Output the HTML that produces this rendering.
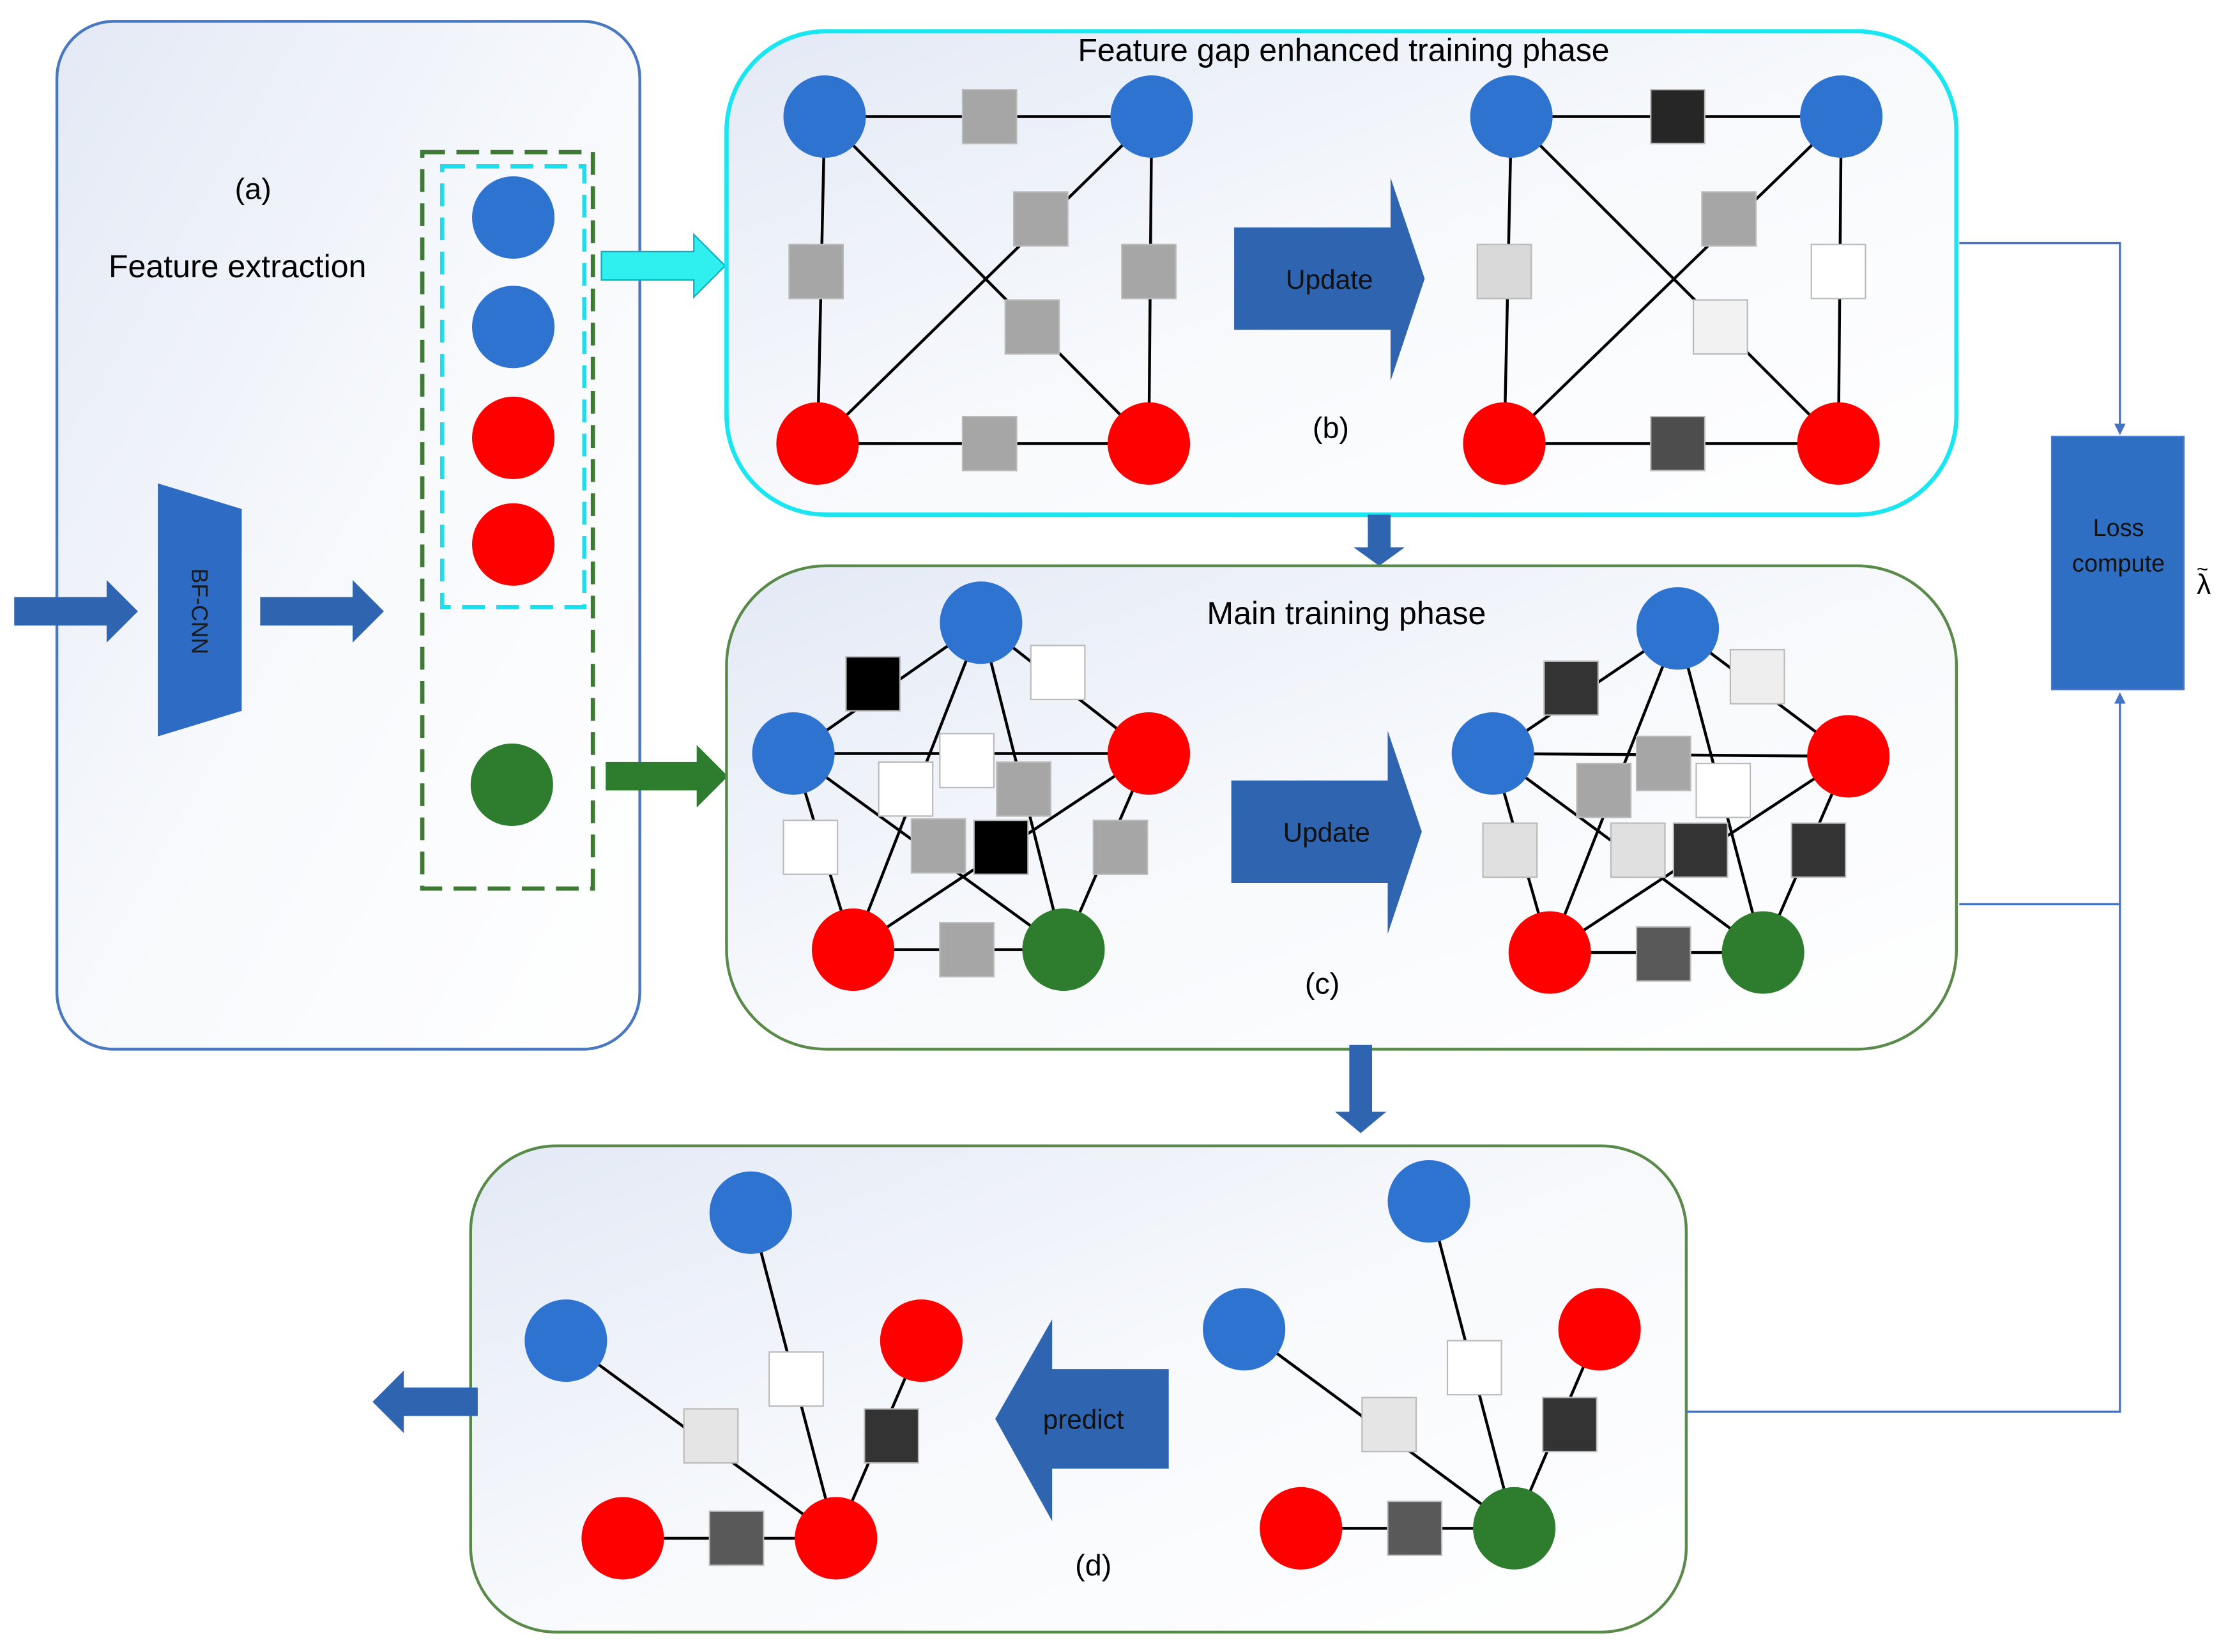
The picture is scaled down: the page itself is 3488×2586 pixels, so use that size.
<!DOCTYPE html>
<html><head><meta charset="utf-8"><style>html,body{margin:0;padding:0;background:#fff}svg{display:block}text{font-family:"Liberation Sans",sans-serif}</style></head><body>
<svg width="3488" height="2586" viewBox="0 0 1567 1162" preserveAspectRatio="none" xmlns="http://www.w3.org/2000/svg">
<defs>
<linearGradient id="g" x1="0" y1="0" x2="1" y2="1"><stop offset="0" stop-color="#e3e9f5"/><stop offset="0.5" stop-color="#f7f9fc"/><stop offset="1" stop-color="#ffffff"/></linearGradient>
<marker id="ah" markerWidth="8" markerHeight="8" refX="7" refY="4" orient="auto" markerUnits="userSpaceOnUse"><path d="M0,0 L8,4 L0,8 z" fill="#4472c4"/></marker>
</defs>
<rect width="1567" height="1162" fill="#fff"/>
<!-- panel a -->
<rect x="40" y="15" width="410" height="723" rx="40" fill="url(#g)" stroke="#4a78c0" stroke-width="2"/>
<text x="178" y="140" font-size="21" text-anchor="middle">(a)</text>
<text x="167" y="195" font-size="22.5" text-anchor="middle">Feature extraction</text>
<rect x="297" y="107" width="120" height="518" fill="none" stroke="#3f7a35" stroke-width="3" stroke-dasharray="16,8"/>
<rect x="311" y="117" width="100" height="310" fill="none" stroke="#19e0ee" stroke-width="3" stroke-dasharray="16,8"/>
<circle cx="361" cy="153" r="29" fill="#2f73d0"/><circle cx="361" cy="230" r="29" fill="#2f73d0"/>
<circle cx="361" cy="308" r="29" fill="#f00"/><circle cx="361" cy="383" r="29" fill="#f00"/>
<circle cx="360" cy="552" r="29" fill="#2e7d2e"/>
<polygon points="111,340 170,358 170,500 111,518" fill="#2e6bc4"/>
<text x="140" y="430" font-size="16" text-anchor="middle" transform="rotate(90 140 430)" dy="5" fill="#1a1a1a">BF-CNN</text>
<polygon points="10,420 75,420 75,408 97,430 75,452 75,440 10,440" fill="#2e64b0"/>
<polygon points="183,420 248,420 248,408 270,430 248,452 248,440 183,440" fill="#2e64b0"/>
<polygon points="423,177 488,177 488,165 510,187 488,209 488,197 423,197" fill="#2ff0ee" stroke="#1ab" stroke-width="1"/>
<polygon points="426,536 490,536 490,524 512,546 490,568 490,556 426,556" fill="#2e7d2e"/>
<!-- panel b -->
<rect x="511" y="22" width="865" height="340" rx="70" fill="url(#g)" stroke="#19e6f0" stroke-width="3"/>
<text x="945" y="43" font-size="22.5" text-anchor="middle">Feature gap enhanced training phase</text>
<text x="936" y="308" font-size="21" text-anchor="middle">(b)</text>
<g stroke="#000" stroke-width="2">
<line x1="580" y1="82" x2="810" y2="82"/><line x1="575" y1="312" x2="808" y2="312"/><line x1="580" y1="82" x2="575" y2="312"/><line x1="810" y1="82" x2="808" y2="312"/><line x1="580" y1="82" x2="808" y2="312"/><line x1="810" y1="82" x2="575" y2="312"/>
<line x1="1063" y1="82" x2="1295" y2="82"/><line x1="1058" y1="312" x2="1293" y2="312"/><line x1="1063" y1="82" x2="1058" y2="312"/><line x1="1295" y1="82" x2="1293" y2="312"/><line x1="1063" y1="82" x2="1293" y2="312"/><line x1="1295" y1="82" x2="1058" y2="312"/>
</g>
<circle cx="580" cy="82" r="29" fill="#2f73d0"/><circle cx="810" cy="82" r="29" fill="#2f73d0"/><circle cx="575" cy="312" r="29" fill="#f00"/><circle cx="808" cy="312" r="29" fill="#f00"/>
<circle cx="1063" cy="82" r="29" fill="#2f73d0"/><circle cx="1295" cy="82" r="29" fill="#2f73d0"/><circle cx="1058" cy="312" r="29" fill="#f00"/><circle cx="1293" cy="312" r="29" fill="#f00"/>
<g stroke="#bbb" stroke-width="1">
<rect x="677" y="63" width="38" height="38" fill="#a6a6a6"/><rect x="555" y="172" width="38" height="38" fill="#a6a6a6"/><rect x="713" y="135" width="38" height="38" fill="#a6a6a6"/><rect x="707" y="211" width="38" height="38" fill="#a6a6a6"/><rect x="789" y="172" width="38" height="38" fill="#a6a6a6"/><rect x="677" y="293" width="38" height="38" fill="#a6a6a6"/>
<rect x="1161" y="63" width="38" height="38" fill="#262626"/><rect x="1039" y="172" width="38" height="38" fill="#d9d9d9"/><rect x="1197" y="135" width="38" height="38" fill="#a6a6a6"/><rect x="1191" y="211" width="38" height="38" fill="#f2f2f2"/><rect x="1274" y="172" width="38" height="38" fill="#fff"/><rect x="1161" y="293" width="38" height="38" fill="#4d4d4d"/>
</g>
<polygon points="868,160 978,160 978,125 1002,196 978,268 978,232 868,232" fill="#2e64b0"/>
<text x="935" y="203" font-size="19" text-anchor="middle" fill="#111">Update</text>
<polygon points="962,362 978,362 978,385 988,385 970,398 952,385 962,385" fill="#2e64b0"/>
<!-- panel c -->
<rect x="511" y="398" width="865" height="340" rx="70" fill="url(#g)" stroke="#5a8a4a" stroke-width="2"/>
<text x="947" y="439" font-size="22.5" text-anchor="middle">Main training phase</text>
<text x="930" y="699" font-size="21" text-anchor="middle">(c)</text>
<g stroke="#000" stroke-width="2" fill="none">
<path d="M690,438 L558,530 L600,668 L748,668 L808,530 Z M690,438 L600,668 M690,438 L748,668 M558,530 L808,530 M558,530 L748,668 M808,530 L600,668"/>
<path d="M1180,442 L1050,530 L1090,670 L1240,670 L1300,532 Z M1180,442 L1090,670 M1180,442 L1240,670 M1050,530 L1300,532 M1050,530 L1240,670 M1300,532 L1090,670"/>
</g>
<circle cx="690" cy="438" r="29" fill="#2f73d0"/><circle cx="558" cy="530" r="29" fill="#2f73d0"/><circle cx="808" cy="530" r="29" fill="#f00"/><circle cx="600" cy="668" r="29" fill="#f00"/><circle cx="748" cy="668" r="29" fill="#2e7d2e"/>
<circle cx="1180" cy="442" r="29" fill="#2f73d0"/><circle cx="1050" cy="530" r="29" fill="#2f73d0"/><circle cx="1300" cy="532" r="29" fill="#f00"/><circle cx="1090" cy="670" r="29" fill="#f00"/><circle cx="1240" cy="670" r="29" fill="#2e7d2e"/>
<g stroke="#bbb" stroke-width="1">
<rect x="595" y="462" width="38" height="38" fill="#000"/><rect x="725" y="454" width="38" height="38" fill="#fff"/><rect x="551" y="577" width="38" height="38" fill="#fff"/><rect x="618" y="536" width="38" height="38" fill="#fff"/><rect x="661" y="516" width="38" height="38" fill="#fff"/><rect x="701" y="536" width="38" height="38" fill="#a6a6a6"/><rect x="641" y="576" width="38" height="38" fill="#a6a6a6"/><rect x="685" y="577" width="38" height="38" fill="#000"/><rect x="769" y="577" width="38" height="38" fill="#a6a6a6"/><rect x="661" y="649" width="38" height="38" fill="#a6a6a6"/>
<rect x="1086" y="465" width="38" height="38" fill="#333"/><rect x="1217" y="457" width="38" height="38" fill="#eee"/><rect x="1043" y="579" width="38" height="38" fill="#e0e0e0"/><rect x="1109" y="537" width="38" height="38" fill="#a6a6a6"/><rect x="1151" y="518" width="38" height="38" fill="#a6a6a6"/><rect x="1193" y="537" width="38" height="38" fill="#fff"/><rect x="1133" y="579" width="38" height="38" fill="#e0e0e0"/><rect x="1177" y="579" width="38" height="38" fill="#333"/><rect x="1260" y="579" width="38" height="38" fill="#333"/><rect x="1151" y="652" width="38" height="38" fill="#595959"/>
</g>
<polygon points="866,549 976,549 976,514 1000,585 976,657 976,621 866,621" fill="#2e64b0"/>
<text x="933" y="592" font-size="19" text-anchor="middle" fill="#111">Update</text>
<polygon points="949,735 965,735 965,782 975,782 957,797 939,782 949,782" fill="#2e64b0"/>
<!-- panel d -->
<rect x="331" y="806" width="855" height="342" rx="60" fill="url(#g)" stroke="#5a8a4a" stroke-width="2"/>
<text x="769" y="1108" font-size="21" text-anchor="middle">(d)</text>
<g stroke="#000" stroke-width="2">
<line x1="528" y1="853" x2="588" y2="1082"/><line x1="398" y1="943" x2="588" y2="1082"/><line x1="648" y1="943" x2="588" y2="1082"/><line x1="438" y1="1082" x2="588" y2="1082"/>
<line x1="1005" y1="845" x2="1065" y2="1075"/><line x1="875" y1="935" x2="1065" y2="1075"/><line x1="1125" y1="935" x2="1065" y2="1075"/><line x1="915" y1="1075" x2="1065" y2="1075"/>
</g>
<circle cx="528" cy="853" r="29" fill="#2f73d0"/><circle cx="398" cy="943" r="29" fill="#2f73d0"/><circle cx="648" cy="943" r="29" fill="#f00"/><circle cx="438" cy="1082" r="29" fill="#f00"/><circle cx="588" cy="1082" r="29" fill="#f00"/>
<circle cx="1005" cy="845" r="29" fill="#2f73d0"/><circle cx="875" cy="935" r="29" fill="#2f73d0"/><circle cx="1125" cy="935" r="29" fill="#f00"/><circle cx="915" cy="1075" r="29" fill="#f00"/><circle cx="1065" cy="1075" r="29" fill="#2e7d2e"/>
<g stroke="#bbb" stroke-width="1">
<rect x="541" y="951" width="38" height="38" fill="#fff"/><rect x="481" y="991" width="38" height="38" fill="#e5e5e5"/><rect x="608" y="991" width="38" height="38" fill="#333"/><rect x="499" y="1063" width="38" height="38" fill="#595959"/>
<rect x="1018" y="943" width="38" height="38" fill="#fff"/><rect x="958" y="983" width="38" height="38" fill="#e5e5e5"/><rect x="1085" y="983" width="38" height="38" fill="#333"/><rect x="976" y="1056" width="38" height="38" fill="#595959"/>
</g>
<polygon points="822,963 740,963 740,928 700,998 740,1070 740,1033 822,1033" fill="#2e64b0"/>
<text x="762" y="1005" font-size="19" text-anchor="middle" fill="#111">predict</text>
<polygon points="336,976 284,976 284,964 262,986 284,1008 284,996 336,996" fill="#2e64b0"/>
<!-- loss -->
<rect x="1443" y="307" width="93" height="178" fill="#2e6fc4" stroke="#4a7ad0"/>
<text x="1490" y="377" font-size="17" text-anchor="middle" fill="#111">Loss</text>
<text x="1490" y="402" font-size="17" text-anchor="middle" fill="#111">compute</text>
<text x="1550" y="418" font-size="20" text-anchor="middle">λ</text>
<text x="1549" y="405" font-size="14" text-anchor="middle">~</text>
<g stroke="#4472c4" stroke-width="1.5" fill="none">
<polyline points="1378,171 1491,171 1491,305" marker-end="url(#ah)"/>
<polyline points="1378,636 1491,636 1491,488" marker-end="url(#ah)"/>
<polyline points="1186,993 1491,993 1491,636"/>
</g>
</svg>
</body></html>
